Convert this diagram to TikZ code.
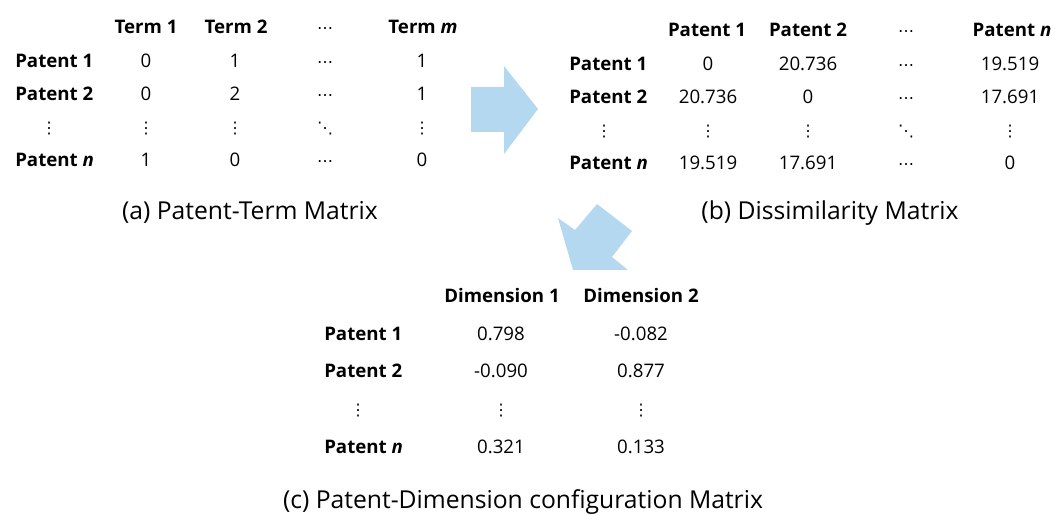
\documentclass[tikz,border=0pt]{standalone}
\usepackage{fontspec}
\setmainfont{Open Sans}
\newfontfamily\dejavu{DejaVu Sans}
\definecolor{arrowblue}{RGB}{180,216,239}
\tikzset{
  hd/.style={anchor=base,inner sep=0.75pt,font=\fontsize{14}{16}\selectfont\bfseries},
  lbl/.style={anchor=base west,inner sep=0.75pt,font=\fontsize{14}{16}\selectfont\bfseries},
  cell/.style={anchor=base,inner sep=0.75pt,font=\fontsize{14}{16}\selectfont},
  dts/.style={anchor=base,inner sep=0pt,font=\fontsize{12}{13}\dejavu},
  capt/.style={anchor=base,inner sep=0.75pt,font=\fontsize{18.5}{22}\selectfont}
}
\begin{document}
\begin{tikzpicture}[x=0.75pt,y=0.75pt,yscale=-1,xscale=1]
    \useasboundingbox (0,0) rectangle (1055,516);
    %Shape: Right Arrow
    \fill [arrowblue] (471,87) -- (504,87) -- (504,66) -- (538,109) -- (504,154) -- (504,132) -- (471,132) -- cycle;
    %Shape: Diagonal Arrow
    \fill [arrowblue] (573,270) -- (558,218) -- (575,230) -- (597,204) -- (632,231) -- (612,257) -- (628,270) -- cycle;
    % Patent-Term matrix
    \node [hd] (ta1) at (146,34) {Term 1};
    \node [hd] (ta2) at (236,34) {Term 2};
    \node [dts] (ta3) at (325,34) {⋯};
    \node [hd] (ta4) at (423,34) {Term \textit{m}};
    \node [lbl] (pa1) at (14,68) {Patent 1};
    \node [cell] (a11) at (146,68) {0};
    \node [cell] (a12) at (235,68) {1};
    \node [dts] (a13) at (325,68) {⋯};
    \node [cell] (a14) at (422,68) {1};
    \node [lbl] (pa2) at (14,101) {Patent 2};
    \node [cell] (a21) at (146,101) {0};
    \node [cell] (a22) at (235,101) {2};
    \node [dts] (a23) at (325,101) {⋯};
    \node [cell] (a24) at (422,101) {1};
    \node [dts] (pa3) at (49,134) {⋮};
    \node [dts] (a31) at (146,134) {⋮};
    \node [dts] (a32) at (235,134) {⋮};
    \node [dts] (a33) at (325,134) {⋱};
    \node [dts] (a34) at (422,134) {⋮};
    \node [lbl] (pa4) at (14,167) {Patent \textit{n}};
    \node [cell] (a41) at (146,167) {1};
    \node [cell] (a42) at (235,167) {0};
    \node [dts] (a43) at (325,167) {⋯};
    \node [cell] (a44) at (422,167) {0};
    \node [capt] (capa) at (250,220) {(a) Patent-Term Matrix};
    % Dissimilarity matrix
    \node [hd] (tb1) at (707,37) {Patent 1};
    \node [hd] (tb2) at (808,37) {Patent 2};
    \node [dts] (tb3) at (906,37) {⋯};
    \node [hd] (tb4) at (1012,37) {Patent \textit{n}};
    \node [lbl] (pb1) at (568,71) {Patent 1};
    \node [cell] (b11) at (708,71) {0};
    \node [cell] (b12) at (808,71) {20.736};
    \node [dts] (b13) at (906,71) {⋯};
    \node [cell] (b14) at (1010,71) {19.519};
    \node [lbl] (pb2) at (568,104) {Patent 2};
    \node [cell] (b21) at (708,104) {20.736};
    \node [cell] (b22) at (808,104) {0};
    \node [dts] (b23) at (906,104) {⋯};
    \node [cell] (b24) at (1010,104) {17.691};
    \node [dts] (pb3) at (604,137) {⋮};
    \node [dts] (b31) at (708,137) {⋮};
    \node [dts] (b32) at (808,137) {⋮};
    \node [dts] (b33) at (906,137) {⋱};
    \node [dts] (b34) at (1010,137) {⋮};
    \node [lbl] (pb4) at (568,170) {Patent \textit{n}};
    \node [cell] (b41) at (708,170) {19.519};
    \node [cell] (b42) at (808,170) {17.691};
    \node [dts] (b43) at (906,170) {⋯};
    \node [cell] (b44) at (1010,170) {0};
    \node [capt] (capb) at (830,220) {(b) Dissimilarity Matrix};
    % Patent-Dimension configuration matrix
    \node [hd] (tc1) at (502,302) {Dimension 1};
    \node [hd] (tc2) at (641,302) {Dimension 2};
    \node [lbl] (pc1) at (323,340) {Patent 1};
    \node [cell] (c11) at (501,340) {0.798};
    \node [cell] (c12) at (641,340) {-0.082};
    \node [lbl] (pc2) at (323,377) {Patent 2};
    \node [cell] (c21) at (501,377) {-0.090};
    \node [cell] (c22) at (641,377) {0.877};
    \node [dts] (pc3) at (358,415) {⋮};
    \node [dts] (c31) at (501,415) {⋮};
    \node [dts] (c32) at (641,415) {⋮};
    \node [lbl] (pc4) at (323,453) {Patent \textit{n}};
    \node [cell] (c41) at (501,453) {0.321};
    \node [cell] (c42) at (641,453) {0.133};
    \node [capt] (capc) at (523,508) {(c) Patent-Dimension configuration Matrix};
\end{tikzpicture}
\end{document}
